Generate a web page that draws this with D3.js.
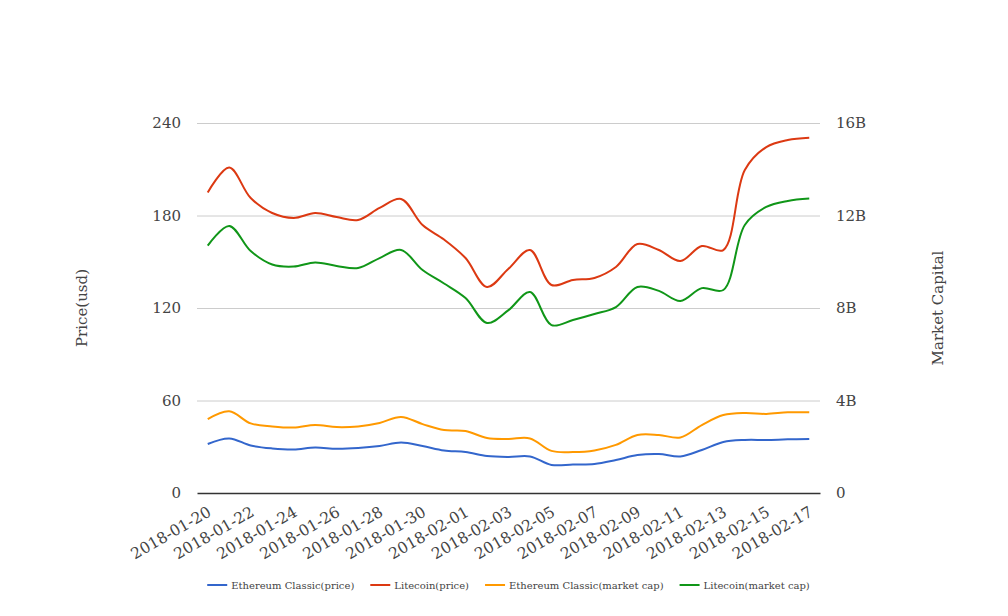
<!DOCTYPE html>
<html>
<head>
<meta charset="utf-8">
<script src="https://cdnjs.cloudflare.com/ajax/libs/d3/7.8.5/d3.min.js"></script>
<style>
  body { margin: 0; background: #fff; }
  text { font-family: "DejaVu Serif", serif; fill: #444; }
</style>
</head>
<body>
<svg id="chart"></svg>
<script>
const dates = ["2018-01-20","2018-01-21","2018-01-22","2018-01-23","2018-01-24","2018-01-25","2018-01-26",
  "2018-01-27","2018-01-28","2018-01-29","2018-01-30","2018-01-31","2018-02-01","2018-02-02","2018-02-03",
  "2018-02-04","2018-02-05","2018-02-06","2018-02-07","2018-02-08","2018-02-09","2018-02-10","2018-02-11",
  "2018-02-12","2018-02-13","2018-02-14","2018-02-15","2018-02-16","2018-02-17"];

// prices in usd (left axis)
const etcPrice = [31.8,35.4,30.8,28.9,28.2,29.5,28.7,29.2,30.5,32.8,30.5,27.6,26.6,24.0,23.4,
  23.7,18.2,18.5,18.8,21.4,24.6,25.3,23.7,27.9,33.1,34.4,34.4,34.8,35.0];
const ltcPrice = [194.9,211.1,191.3,181.6,178.4,181.6,179.0,177.1,184.9,190.7,173.8,164.4,152.4,133.6,145.5,
  157.6,134.9,138.2,139.5,146.6,161.5,157.6,150.5,160.2,157.6,209.5,224.4,229.0,230.5];
// market caps in billions (right axis)
const etcCap = [3.19,3.53,3.01,2.88,2.83,2.94,2.85,2.88,3.03,3.29,2.98,2.72,2.68,2.38,2.34,
  2.36,1.82,1.77,1.84,2.08,2.51,2.51,2.40,2.94,3.37,3.46,3.42,3.49,3.49];
const ltcCap = [10.70,11.55,10.46,9.88,9.79,9.97,9.82,9.73,10.16,10.51,9.64,9.06,8.43,7.35,7.91,
  8.69,7.26,7.48,7.74,8.04,8.91,8.74,8.30,8.86,8.78,11.59,12.37,12.63,12.73];

const leftTicks = [0, 60, 120, 180, 240];
const rightTicks = [0, 4, 8, 12, 16];
const xTickLabels = dates.filter((d, i) => i % 2 === 0);

const series = [
  { name: "Ethereum Classic(price)", values: etcPrice, axis: "left", color: "#3366cc" },
  { name: "Litecoin(price)", values: ltcPrice, axis: "left", color: "#dc3912" },
  { name: "Ethereum Classic(market cap)", values: etcCap, axis: "right", color: "#ff9900" },
  { name: "Litecoin(market cap)", values: ltcCap, axis: "right", color: "#109618" }
];

const W = 1008, H = 616;
const margin = { top: 123, right: 188, bottom: 123, left: 197 };
const width = W - margin.left - margin.right,
      height = H - margin.top - margin.bottom;

const svg = d3.select("#chart").attr("width", W).attr("height", H);
const g = svg.append("g").attr("transform", `translate(${margin.left},${margin.top})`);

const x = d3.scalePoint().domain(dates).range([0, width]).padding(0.5);
const yL = d3.scaleLinear().domain([0, 240]).range([height, 0]);
const yR = d3.scaleLinear().domain([0, 16]).range([height, 0]);

// grid + left axis
g.append("g")
  .call(d3.axisLeft(yL).tickValues(leftTicks).tickSize(-width).tickPadding(16))
  .call(a => a.select(".domain").remove())
  .call(a => a.selectAll(".tick line").attr("stroke", "#ccc").attr("stroke-width", d => d === 0 ? 0 : 1))
  .call(a => a.selectAll(".tick text").attr("font-size", 15).attr("fill", "#444")
    .style("font-family", "DejaVu Serif"));

// right axis
g.append("g")
  .attr("transform", `translate(${width},0)`)
  .call(d3.axisRight(yR).tickValues(rightTicks).tickSize(0).tickPadding(16)
    .tickFormat(d => d === 0 ? "0" : d + "B"))
  .call(a => a.select(".domain").remove())
  .call(a => a.selectAll(".tick text").attr("font-size", 15).attr("fill", "#444")
    .style("font-family", "DejaVu Serif"));

// x axis
const xAxis = g.append("g")
  .attr("transform", `translate(0,${height})`)
  .call(d3.axisBottom(x).tickValues(xTickLabels).tickSize(0).tickPadding(0));
xAxis.select(".domain").attr("stroke", "#333").attr("stroke-width", 1.5);
xAxis.selectAll(".tick text")
  .attr("font-size", 15.5).attr("fill", "#333").style("font-family", "DejaVu Serif")
  .attr("text-anchor", "end")
  .attr("dy", "0")
  .attr("transform", "translate(4,22) rotate(-30)");

// axis titles
svg.append("text")
  .attr("text-anchor", "middle")
  .attr("font-size", 15).attr("fill", "#222")
  .attr("transform", `translate(87,${margin.top + height / 2}) rotate(-90)`)
  .text("Price(usd)");
svg.append("text")
  .attr("text-anchor", "middle")
  .attr("font-size", 15).attr("fill", "#222")
  .attr("transform", `translate(943,${margin.top + height / 2}) rotate(-90)`)
  .text("Market Capital");

// lines
series.forEach(s => {
  const y = s.axis === "left" ? yL : yR;
  const line = d3.line()
    .x((d, i) => x(dates[i]))
    .y(d => y(d))
    .curve(d3.curveCatmullRom.alpha(0.5));
  g.append("path")
    .datum(s.values)
    .attr("fill", "none")
    .attr("stroke", s.color)
    .attr("stroke-width", 2)
    .attr("d", line);
});

// legend
const legend = svg.append("g");
let lx = 0;
series.forEach(s => {
  const it = legend.append("g").attr("transform", `translate(${lx},0)`);
  it.append("line").attr("x1", 0).attr("x2", 20).attr("y1", 0).attr("y2", 0)
    .attr("stroke", s.color).attr("stroke-width", 2);
  const t = it.append("text").attr("x", 24).attr("dy", "0.35em")
    .attr("font-size", 10).attr("fill", "#222").text(s.name);
  lx += 24 + t.node().getComputedTextLength() + 16;
});
const total = lx - 16;
legend.attr("transform", `translate(${(margin.left + width / 2) - total / 2},585)`);
</script>
</body>
</html>
